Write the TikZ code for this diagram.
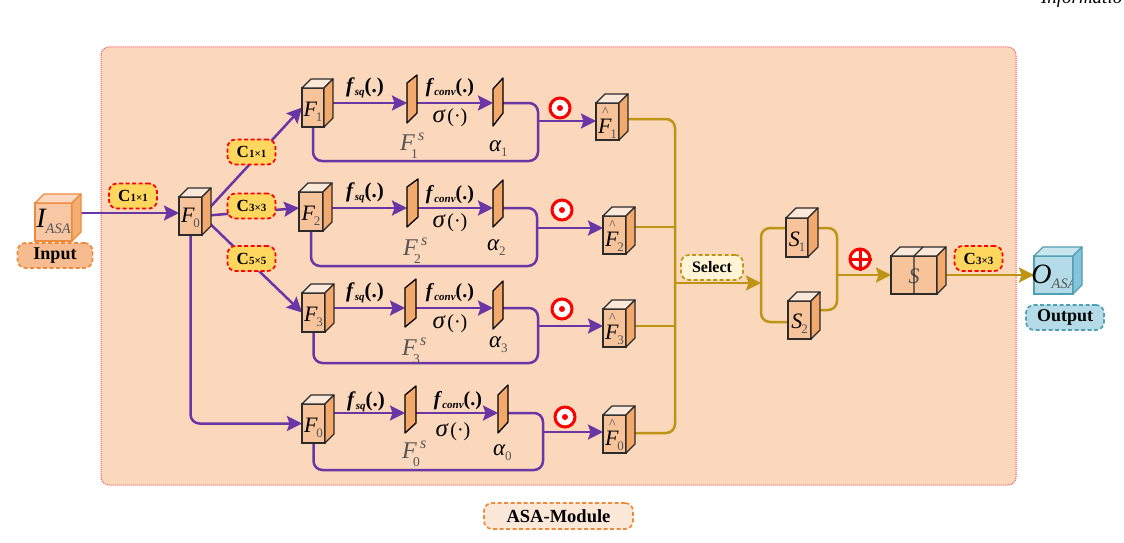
\documentclass[tikz,border=0pt]{standalone}
\usepackage{fontspec}
\setmainfont{Liberation Serif}
\usetikzlibrary{arrows.meta}
\pgfdeclarelayer{bg}
\pgfdeclarelayer{conn}
\pgfsetlayers{bg,conn,main}
\definecolor{panel}{HTML}{FBD7BC}
\definecolor{panelline}{HTML}{F8505A}
\definecolor{cfront}{HTML}{F7C39B}
\definecolor{cside}{HTML}{F3A96C}
\definecolor{ctop}{HTML}{FCE8D9}
\definecolor{cline}{HTML}{2B2B2B}
\definecolor{ofront}{HTML}{F8C8A4}
\definecolor{oside}{HTML}{F4AE72}
\definecolor{otop}{HTML}{FBD9C0}
\definecolor{oline}{HTML}{EE8A3C}
\definecolor{ipill}{HTML}{F6BC90}
\definecolor{spillc}{HTML}{FFF5D6}
\definecolor{bfront}{HTML}{B5DBE8}
\definecolor{bside}{HTML}{85C4DA}
\definecolor{btop}{HTML}{C9E6EF}
\definecolor{bline}{HTML}{4F9FB5}
\definecolor{purp}{HTML}{6A35A5}
\definecolor{gold}{HTML}{BE9414}
\definecolor{pill}{HTML}{FFD75E}
\definecolor{gtext}{HTML}{555555}
\newcommand\fz[1]{\fontsize{#1}{#1}\selectfont}
% cube: name, x0, y0, x1, y1, depth, palette prefix, line colour, text
\newcommand\mycube[9]{%
  \node[frontface,fill=#7front,draw=#8,minimum width=#4pt-#2pt,minimum height=#5pt-#3pt,anchor=north west] (#1) at (#2,#3) {\makebox[0pt]{\smash{\raisebox{-8.5pt}{#9}}}};
  \draw[faceline,fill=#7top,draw=#8] (#1.north west) -- ++(#6,-#6) -- ([shift={(#6pt,#6pt)}]#1.north east) -- (#1.north east) -- cycle;
  \draw[faceline,fill=#7side,draw=#8] (#1.north east) -- ([shift={(#6pt,#6pt)}]#1.north east) -- ([shift={(#6pt,#6pt)}]#1.south east) -- (#1.south east) -- cycle;
}
% plate: name, xl, xr, ytopL, ybotL, ytopR, ybotR
\newcommand\plate[7]{%
  \node[minimum width=#3pt-#2pt,minimum height=#5pt-#6pt,inner sep=0pt,outer sep=0pt,anchor=north west] (#1) at (#2,#6) {};
  \draw[faceline,fill=cside,draw=black] (#2,#4) -- (#3,#6) -- (#3,#7) -- (#2,#5) -- cycle;
}
\newcommand\FF[2]{{\fz{22}\itshape #1}\kern-1pt\raisebox{-5pt}{\fz{13}\color{gtext}#2}}
\newcommand\FH[1]{\raisebox{-3pt}{\rlap{\raisebox{17pt}{\kern4pt\fz{14}\color{gtext}\textasciicircum}}\FF{F}{#1}}}
\newcommand\BS[1]{\textbf{\textit{#1}}}
\newcommand\fsq{{\fz{21}\BS{f}}\raisebox{-3pt}{\fz{11}\BS{sq}}{\fz{21}\textbf{(.)}}}
\newcommand\fconv{{\fz{20}\BS{f}}\raisebox{-3pt}{\fz{11}\BS{conv}}{\fz{20}\textbf{(.)}}}
\newcommand\sg{{\fz{25}\textit{σ}}\,{\fz{20}(·)}}
\newcommand\FS[1]{\rlap{\color{gtext}\fz{24}\itshape F}\rlap{\hspace{11pt}\raisebox{-8pt}{\fz{13.5}\color{gtext}#1}}\hspace{18pt}\raisebox{10pt}{\fz{16}\color{gtext}\itshape s}}
\newcommand\AL[1]{{\fz{23}\itshape α}\raisebox{-5pt}{\fz{13}\color{gtext}#1}}
\newcommand\CC[1]{\textbf{{\fz{17}C}{\fz{11}#1}}}
\tikzset{
  frontface/.style={rectangle,line width=1.3pt,inner sep=0pt,outer sep=0pt,text=black},
  faceline/.style={line width=1.3pt,line join=round},
  tipstyle/.style={-{Stealth[length=15pt,width=15pt,inset=2.5pt]}},
  parrow/.style={draw=purp,line width=2.5pt,tipstyle},
  pline/.style={draw=purp,line width=2.5pt,rounded corners=9pt},
  garrow/.style={draw=gold,line width=2.5pt,tipstyle},
  gline/.style={draw=gold,line width=2.5pt,rounded corners=9pt},
  pillbox/.style={rectangle,rounded corners=8pt,dashed,dash pattern=on 4pt off 2.5pt,line width=1.7pt,inner sep=0pt,outer sep=0pt,font=\bfseries},
  cpill/.style={pillbox,draw=red,fill=pill,minimum width=48pt,minimum height=25pt},
  opill/.style={pillbox,draw=oline,fill=ipill,minimum height=25pt},
  bpill/.style={pillbox,draw=bline,fill=bfront,minimum height=25pt},
  spill/.style={pillbox,draw=gold,fill=spillc,minimum height=25pt},
  mpill/.style={pillbox,draw=oline,fill=ctop,minimum height=26pt},
  lbl/.style={inner sep=0pt,outer sep=0pt},
  odotc/.style={circle,draw=red,fill=white,line width=3pt,minimum size=20pt,inner sep=0pt},
}
\begin{document}
\begin{tikzpicture}[x=1pt,y=-1pt]
\useasboundingbox (0,0) rectangle (1124,543);
\begin{pgfonlayer}{bg}
  \fill[white] (0,0) rectangle (1124,543);
  \draw[panelline,fill=panel,line width=1pt,densely dotted,rounded corners=8pt] (101,47) rectangle (1016,485);
\end{pgfonlayer}
\begin{scope}
\clip (0,0) rectangle (1124,543);
\node[lbl,anchor=base west] (hdr) at (1041,4) {\fz{19}\itshape Informatio};
\end{scope}

% cubes
\mycube{I}{35}{203}{72}{241}{9}{o}{oline}{\raisebox{3.5pt}{{\fz{28}\itshape I}\raisebox{-6pt}{\fz{14.5}\color{gtext}\itshape ASA}}}
\mycube{F}{179}{197}{202}{235}{9}{c}{cline}{\raisebox{2.5pt}{\FF{F}{0}}}
\mycube{Fa}{302}{88}{324}{127}{9}{c}{cline}{\FF{F}{1}}
\mycube{Fb}{299}{192}{323}{231}{9}{c}{cline}{\FF{F}{2}}
\mycube{Fc}{302}{293}{325}{332}{9}{c}{cline}{\FF{F}{3}}
\mycube{Fd}{302}{404}{325}{443}{9}{c}{cline}{\FF{F}{0}}
\mycube{Ha}{596}{103}{619}{140}{9}{c}{cline}{\FH{1}}
\mycube{Hb}{603}{216}{626}{254}{9}{c}{cline}{\FH{2}}
\mycube{Hc}{603}{309}{626}{347}{9}{c}{cline}{\FH{3}}
\mycube{Hd}{603}{415}{626}{453}{9}{c}{cline}{\FH{0}}
\mycube{Sa}{786}{218}{808}{257}{10}{c}{cline}{\FF{S}{1}}
\mycube{Sb}{788}{301}{811}{339}{9}{c}{cline}{\FF{S}{2}}
\mycube{S}{891}{256}{937}{294}{9}{c}{cline}{{\fz{22}\itshape\color{gtext}S}}
\draw[faceline,draw=cline] (S.north) -- (S.south) (S.north) -- ++(9,-9);
\mycube{O}{1034}{256}{1073}{294}{9}{b}{bline}{\hspace{1pt}{\fz{28}\itshape O}\raisebox{-5pt}{\fz{14.5}\color{gtext}\itshape ASA}}

% plates
\plate{Pa}{407}{417}{83}{123}{75}{113}
\plate{Aa}{493}{503}{89}{126}{78}{113}
\plate{Pb}{407}{418}{187}{227}{179}{217}
\plate{Ab}{493}{503}{190}{227}{180}{217}
\plate{Pc}{405}{416}{288}{327}{279}{318}
\plate{Ac}{493}{503}{291}{329}{281}{319}
\plate{Pd}{405}{416}{395}{433}{386}{423}
\plate{Ad}{498}{508}{395}{433}{385}{422}

% row coordinates
\coordinate (ra) at (0,103);
\coordinate (rb) at (0,208);
\coordinate (rc) at (0,308);
\coordinate (rd) at (0,413);
\coordinate (ma) at (538,121);
\coordinate (mb) at (537,228);
\coordinate (mc) at (538,326);
\coordinate (md) at (543,432);
\coordinate (la) at (538,161);
\coordinate (lb) at (537,266);
\coordinate (lc) at (538,363);
\coordinate (ld) at (543,470);
\coordinate (ga) at (0,119);
\coordinate (gb) at (0,227);
\coordinate (gc) at (0,326);
\coordinate (gd) at (0,433);
\coordinate (bus) at (675,283);
\coordinate (split) at (761,283);
\coordinate (sa) at (0,228);
\coordinate (sb) at (0,322);
\coordinate (sc) at (0,310);
\coordinate (k) at (837,275);
\coordinate (fin) at (0,213);

% pills
\node[cpill] (c0) at (133,196) {\CC{1×1}};
\node[cpill] (c1) at (251.5,152) {\CC{1×1}};
\node[cpill] (c2) at (251.5,206) {\CC{3×3}};
\node[cpill] (c3) at (251.5,258.5) {\CC{5×5}};
\node[cpill] (c4) at (978.5,258.5) {\CC{3×3}};
\node[opill,minimum width=75pt] (inp) at (55,255.5) {\fz{18}Input};
\node[bpill,minimum width=78pt] (outp) at (1065,317.5) {\fz{18}Output};
\node[spill,minimum width=62pt] (sel) at (712,267.5) {\fz{16}Select};
\node[mpill,minimum width=149pt] (mod) at (558.5,516) {\fz{18.5}ASA-Module};

% symbols
\node[odotc] (oa) at (560,108) {}; \fill[red] (oa) circle (3);
\node[odotc] (ob) at (562,210) {}; \fill[red] (ob) circle (3);
\node[odotc] (oc) at (562,309) {}; \fill[red] (oc) circle (3);
\node[odotc] (od) at (565,417) {}; \fill[red] (od) circle (3);
\node[odotc] (op) at (860,259) {};
\draw[red,line width=3pt] (op.north) -- (op.south) (op.west) -- (op.east);

% texts
\foreach \n/\x/\y in {qa/365/88,qb/365/193,qc/365/293,qd/366/402}{\node[lbl] (\n) at (\x,\y) {\fsq};}
\foreach \n/\x/\y in {va/450/88,vb/450/195,vc/450/293,vd/458/401}{\node[lbl] (\n) at (\x,\y) {\fconv};}
\foreach \n/\x/\y in {ta/450/118,tb/450/223,tc/450/324,td/453/432}{\node[lbl] (\n) at (\x,\y) {\sg};}
\node[lbl,anchor=base west] (sfa) at (400,150) {\FS{1}};
\node[lbl,anchor=base west] (sfb) at (403,255) {\FS{2}};
\node[lbl,anchor=base west] (sfc) at (402,355) {\FS{3}};
\node[lbl,anchor=base west] (sfd) at (402,458) {\FS{0}};
\node[lbl,anchor=base west] (ala) at (489,151) {\AL{1}};
\node[lbl,anchor=base west] (alb) at (487,250) {\AL{2}};
\node[lbl,anchor=base west] (alc) at (489,347) {\AL{3}};
\node[lbl,anchor=base west] (ald) at (493,455) {\AL{0}};

% connectors
\begin{pgfonlayer}{conn}
  \draw[parrow] (I.east |- fin) -- (F.west |- fin);
  \draw[parrow] (F.east) -- (Fa.west);
  \draw[parrow] (F.east) -- (Fb.west |- rb);
  \draw[parrow] (F.east) -- (Fc.west);
  \draw[pline,tipstyle] (F.south) |- (Fd.west);
  % row 1
  \draw[parrow] (Fa.east |- ra) -- (Pa.west |- ra);
  \draw[parrow] (Pa.east |- ra) -- (Aa.west |- ra);
  \draw[pline] (Aa.east |- ra) -| (ma);
  \draw[pline] (Fa.south) |- (la) -- (ma);
  \draw[parrow] (ma) -- (Ha.west |- ma);
  % row 2
  \draw[parrow] (Fb.east |- rb) -- (Pb.west |- rb);
  \draw[parrow] (Pb.east |- rb) -- (Ab.west |- rb);
  \draw[pline] (Ab.east |- rb) -| (mb);
  \draw[pline] (Fb.south) |- (lb) -- (mb);
  \draw[parrow] (mb) -- (Hb.west |- mb);
  % row 3
  \draw[parrow] (Fc.east |- rc) -- (Pc.west |- rc);
  \draw[parrow] (Pc.east |- rc) -- (Ac.west |- rc);
  \draw[pline] (Ac.east |- rc) -| (mc);
  \draw[pline] (Fc.south) |- (lc) -- (mc);
  \draw[parrow] (mc) -- (Hc.west |- mc);
  % row 0
  \draw[parrow] (Fd.east |- rd) -- (Pd.west |- rd);
  \draw[parrow] (Pd.east |- rd) -- (Ad.west |- rd);
  \draw[pline] (Ad.east |- rd) -| (md);
  \draw[pline] (Fd.south) |- (ld) -- (md);
  \draw[parrow] (md) -- (Hd.west |- md);
  % gold
  \draw[gline] (Ha.east |- ga) -| (bus);
  \draw[gline] (Hd.east |- gd) -| (bus);
  \draw[gline] (Hb.east |- gb) -- (bus |- gb);
  \draw[gline] (Hc.east |- gc) -- (bus |- gc);
  \draw[garrow] (bus) -- (split);
  \draw[gline] (Sa.west |- sa) -| (split);
  \draw[gline] (Sb.west |- sb) -| (split);
  \draw[gline] (Sa.east |- sa) -| (k);
  \draw[gline] (Sb.east |- sc) -| (k);
  \draw[garrow] (k) -- (S.west |- k);
  \draw[garrow] (S.east |- k) -- (O.west |- k);
\end{pgfonlayer}
\end{tikzpicture}
\end{document}
